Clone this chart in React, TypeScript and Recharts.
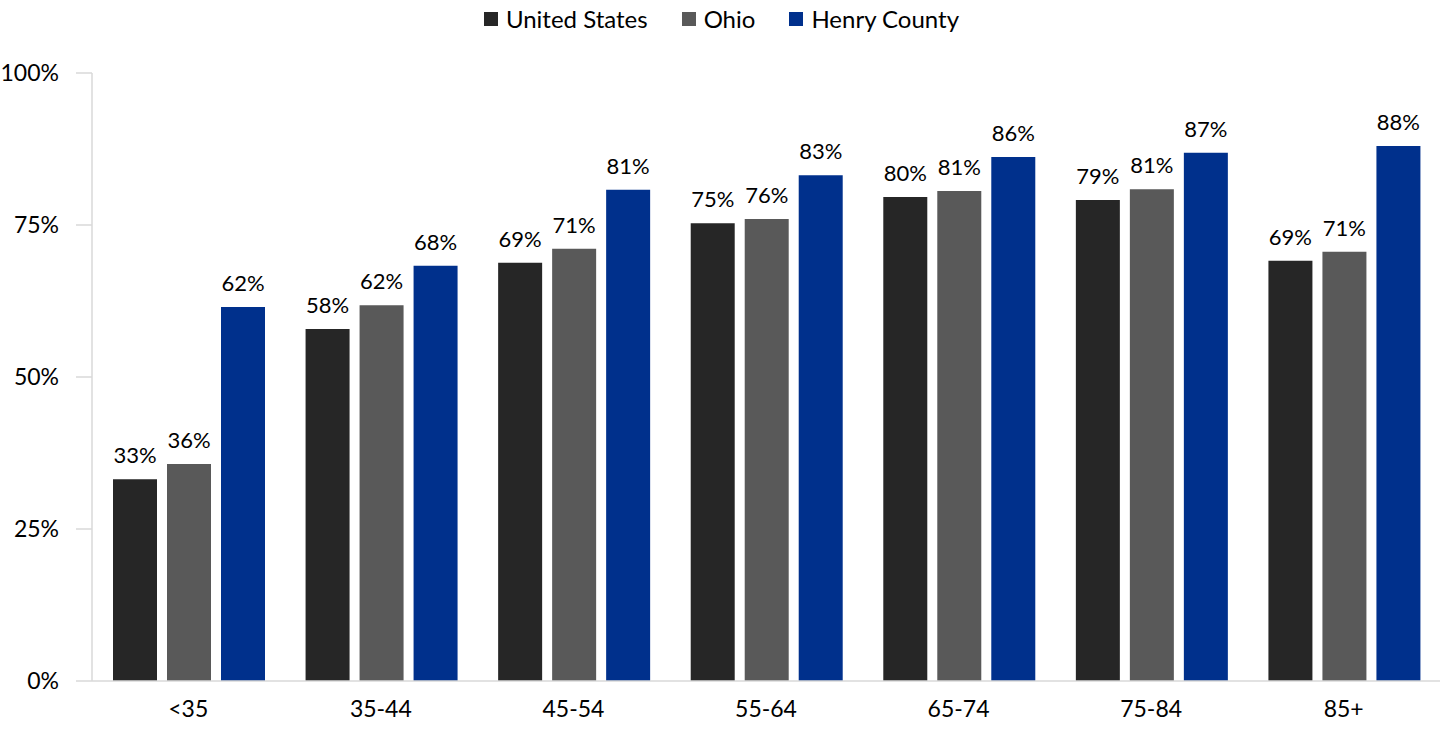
import React from 'react';
import { BarChart, Bar, XAxis, YAxis, Legend, LabelList } from 'recharts';

const ageGroups = ['<35', '35-44', '45-54', '55-64', '65-74', '75-84', '85+'];
const unitedStates = [33.2, 57.9, 68.8, 75.3, 79.6, 79.1, 69.1];
const ohio = [35.7, 61.8, 71.1, 76.0, 80.6, 80.9, 70.6];
const henryCounty = [61.5, 68.3, 80.8, 83.2, 86.2, 86.9, 88.0];
const yTicks = [0, 25, 50, 75, 100];

const seriesNames = ['United States', 'Ohio', 'Henry County'];
const seriesColors = ['#262626', '#595959', '#00308c'];

const data = ageGroups.map((group, i) => ({
    group,
    us: unitedStates[i],
    ohio: ohio[i],
    henry: henryCounty[i]
}));

const FONT = 'Lato, "Open Sans", sans-serif';
const AXIS_COLOR = '#d9d9d9';

// Y tick with a small tick mark crossing the axis, like the original
const YTick = (props: any) => {
    const { x, y, payload } = props;
    return (
        <g>
            <line x1={x - 8} x2={x + 8} y1={y} y2={y} stroke={AXIS_COLOR} strokeWidth={1.5} />
            <text x={x - 25} y={y} dy={8} textAnchor="end" fill="#000" fontSize={23} fontFamily={FONT}>
                {payload.value}%
            </text>
        </g>
    );
};

// Legend in series order (Recharts would otherwise reorder it)
const LegendContent = () => (
    <div style={{ display: 'flex', justifyContent: 'center', fontFamily: FONT, fontSize: 24, color: '#000' }}>
        {seriesNames.map((name, i) => (
            <div key={name} style={{ display: 'flex', alignItems: 'center', marginRight: i < seriesNames.length - 1 ? 34 : 0 }}>
                <span style={{ display: 'inline-block', width: 14, height: 14, background: seriesColors[i], marginRight: 8 }} />
                <span>{name}</span>
            </div>
        ))}
    </div>
);

const pct = (v: any) => `${Math.round(Number(v))}%`;
const labelStyle = { fill: '#000', fontSize: 22, fontFamily: FONT };

const App: React.FC = () => {
    return (
        <div style={{ position: 'absolute', left: 0, top: 0, background: '#fff' }}>
            <BarChart
                width={1443}
                height={730}
                data={data}
                margin={{ top: 73, right: 3, left: 0, bottom: 0 }}
                barCategoryGap={21}
                barGap={10}
            >
                <XAxis
                    dataKey="group"
                    height={49}
                    tickLine={false}
                    axisLine={{ stroke: AXIS_COLOR, strokeWidth: 1.5 }}
                    tick={{ fill: '#000', fontSize: 23, fontFamily: FONT }}
                    tickMargin={14}
                    interval={0}
                />
                <YAxis
                    width={92}
                    domain={[0, 100]}
                    ticks={yTicks}
                    tickLine={false}
                    axisLine={{ stroke: AXIS_COLOR, strokeWidth: 1.5 }}
                    tick={<YTick />}
                    interval={0}
                />
                <Legend
                    verticalAlign="middle"
                    align="center"
                    content={<LegendContent />}
                    wrapperStyle={{ top: 4, left: 0, width: 1443 }}
                />
                <Bar dataKey="us" name="United States" fill={seriesColors[0]} isAnimationActive={false}>
                    <LabelList dataKey="us" position="top" offset={16} formatter={pct} style={labelStyle} />
                </Bar>
                <Bar dataKey="ohio" name="Ohio" fill={seriesColors[1]} isAnimationActive={false}>
                    <LabelList dataKey="ohio" position="top" offset={16} formatter={pct} style={labelStyle} />
                </Bar>
                <Bar dataKey="henry" name="Henry County" fill={seriesColors[2]} isAnimationActive={false}>
                    <LabelList dataKey="henry" position="top" offset={16} formatter={pct} style={labelStyle} />
                </Bar>
            </BarChart>
        </div>
    );
};

export default App;
